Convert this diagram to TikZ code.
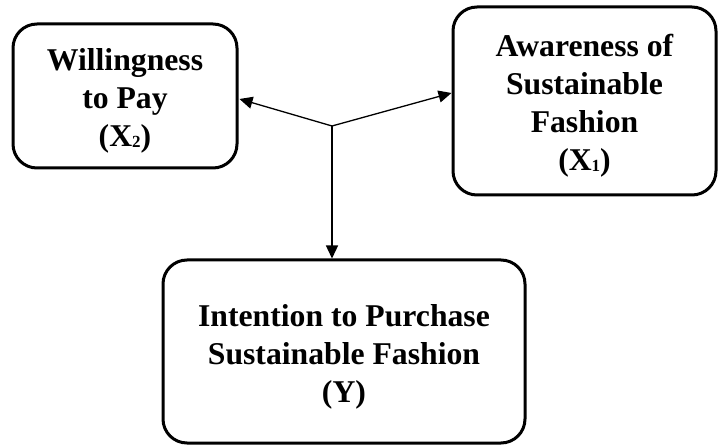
\documentclass[tikz,border=0pt]{standalone}
\usepackage{fontspec}
\setmainfont{Liberation Serif}
\usetikzlibrary{arrows.meta,calc}
\newcommand{\lowsub}[1]{\raisebox{-1pt}{\fontsize{17}{17}\selectfont #1}}
\newcommand{\topstrut}{\rule{0pt}{32pt}}
\begin{document}
\begin{tikzpicture}[x=1pt,y=1pt,
  varbox/.style={draw=black,line width=3pt,rounded corners=24pt,align=center,
    font=\fontsize{31.7}{38}\selectfont\bfseries,inner sep=0pt},
  link/.style={line width=1.3pt,-{Triangle[length=13pt,width=12pt]}}]
\useasboundingbox (0,0) rectangle (718,445);
\node[varbox,minimum width=224pt,minimum height=144pt] (L) at (125,349)
  {\topstrut Willingness\\to Pay\\(X\lowsub{2})};
\node[varbox,minimum width=263pt,minimum height=188pt] (R) at (584.5,344)
  {\topstrut Awareness of\\Sustainable\\Fashion\\(X\lowsub{1})};
\node[varbox,minimum width=362pt,minimum height=183pt] (B) at (344,93.5)
  {\topstrut Intention to Purchase\\Sustainable Fashion\\(Y)};
\coordinate (J) at (332,319);
\draw[link] (J) -- ($(L.east)+(1,-3)$);
\draw[link] (J) -- ($(R.west)+(0,8)$);
\draw[link] (J) -- (J |- B.north);
\end{tikzpicture}
\end{document}
